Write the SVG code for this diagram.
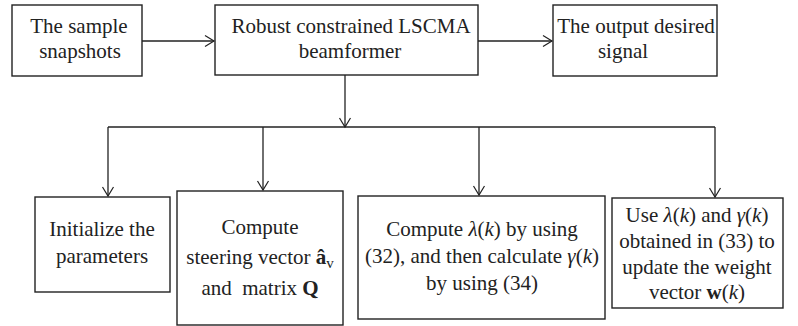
<svg xmlns="http://www.w3.org/2000/svg" width="798" height="326" viewBox="0 0 798 326">
<style>
rect{fill:#fff;stroke:#222;stroke-width:1.4}
text{font-family:'Liberation Serif','DejaVu Serif',serif;font-size:21px;fill:#222;text-anchor:middle;white-space:pre}
.i{font-style:italic}
.b{font-weight:bold}
.c path,.c line{fill:none;stroke:#222;stroke-width:1.3}
</style>
<defs>
<marker id="ah" markerWidth="12" markerHeight="14" refX="10" refY="7" orient="auto" markerUnits="userSpaceOnUse">
<path d="M1,1.5 L10,7 L1,12.5" fill="none" stroke="#222" stroke-width="1.2"/>
</marker>
</defs>
<rect width="798" height="326" style="fill:#fff;stroke:none"/>
<g id="n1"><rect x="12" y="5" width="130" height="71"/>
<text x="79" y="33">The sample</text><text x="80" y="58">snapshots</text></g>
<g id="n2"><rect x="215" y="5" width="263" height="70"/>
<text x="351" y="33">Robust constrained LSCMA</text><text x="350" y="58">beamformer</text></g>
<g id="n3"><rect x="553" y="5" width="164" height="71"/>
<text x="636" y="33">The output desired</text><text x="623" y="58">signal</text></g>
<g id="n4"><rect x="35" y="197" width="135" height="95"/>
<text x="102" y="236">Initialize the</text><text x="102" y="263">parameters</text></g>
<g id="n5"><rect x="177" y="191" width="166" height="134"/>
<text x="260" y="234">Compute</text>
<text x="260" y="264">steering vector <tspan class="b">â</tspan><tspan font-size="15" dy="4">v</tspan></text>
<text x="260" y="295">and  matrix <tspan class="b">Q</tspan></text></g>
<g id="n6"><rect x="358" y="196" width="247" height="123"/>
<text x="482" y="236">Compute <tspan class="i">λ</tspan>(<tspan class="i">k</tspan>) by using</text>
<text x="482" y="263">(32), and then calculate <tspan class="i">γ</tspan>(<tspan class="i">k</tspan>)</text>
<text x="482" y="290">by using (34)</text></g>
<g id="n7"><rect x="612" y="198" width="171" height="110"/>
<text x="697" y="222">Use <tspan class="i">λ</tspan>(<tspan class="i">k</tspan>) and <tspan class="i">γ</tspan>(<tspan class="i">k</tspan>)</text>
<text x="697" y="248">obtained in (33) to</text>
<text x="697" y="274">update the weight</text>
<text x="697" y="299">vector <tspan class="b">w</tspan>(<tspan class="i">k</tspan>)</text></g>
<g id="connectors" class="c">
<line x1="142" y1="41" x2="214" y2="41" marker-end="url(#ah)"/>
<line x1="478" y1="41" x2="552" y2="41" marker-end="url(#ah)"/>
<line x1="345" y1="75" x2="345" y2="127" marker-end="url(#ah)"/>
<path d="M108,127 L715,127"/>
<line x1="108" y1="127" x2="108" y2="196" marker-end="url(#ah)"/>
<line x1="263" y1="127" x2="263" y2="190" marker-end="url(#ah)"/>
<line x1="479" y1="127" x2="479" y2="195" marker-end="url(#ah)"/>
<line x1="715" y1="127" x2="715" y2="197" marker-end="url(#ah)"/>
</g>
</svg>
